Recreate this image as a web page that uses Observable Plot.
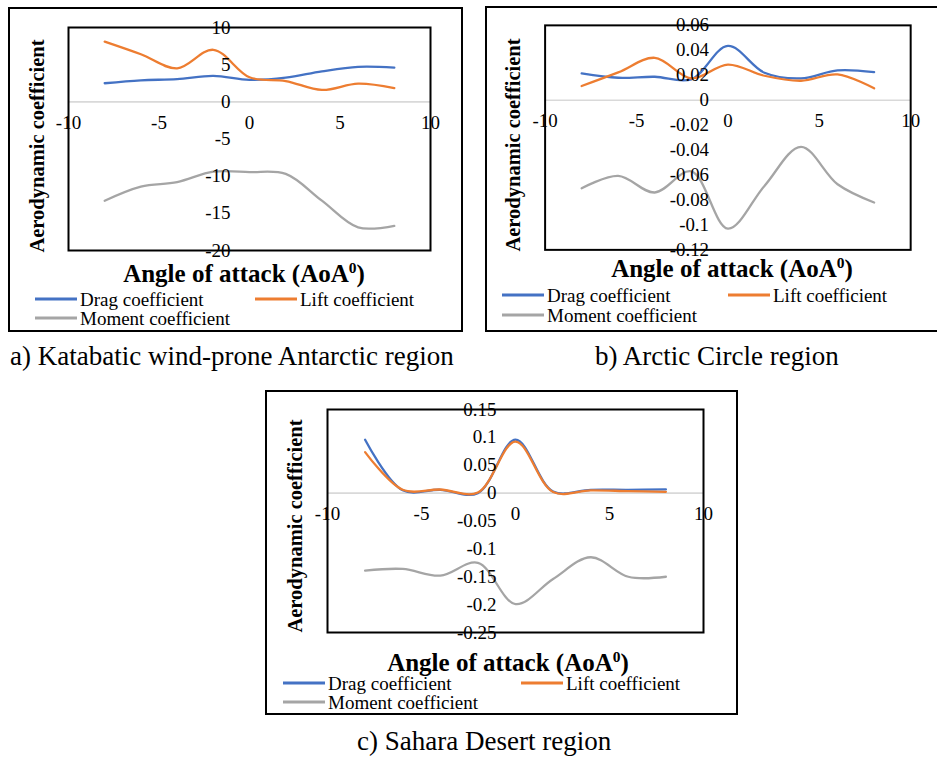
<!DOCTYPE html>
<html>
<head>
<meta charset="utf-8">
<script src="https://cdn.jsdelivr.net/npm/d3@7"></script>
<script src="https://cdn.jsdelivr.net/npm/@observablehq/plot@0.6"></script>
<style>
  html, body { margin: 0; padding: 0; background: #fff; }
  #page { position: relative; width: 937px; height: 758px; overflow: hidden; background: #fff;
          font-family: "Liberation Serif", "Tinos", "DejaVu Serif", serif; color: #000; }
  .box { position: absolute; border: 2px solid #000; box-sizing: border-box; }
  .svgwrap { position: absolute; }
  .svgwrap svg { overflow: visible; }
  .ytitle { position: absolute; font-weight: bold; font-size: 20.5px; white-space: nowrap; line-height: 1;
            transform: translate(-50%, -50%) rotate(-90deg); }
  .xtitle { position: absolute; font-weight: bold; font-size: 25px; white-space: nowrap; line-height: 1;
            transform: translate(-50%, -50%); }
  .xtitle sup { font-size: 0.62em; vertical-align: 0.55em; line-height: 0; }
  .leg { position: absolute; display: flex; align-items: center; transform: translateY(-50%);
         font-size: 19px; white-space: nowrap; line-height: 1; }
  .leg .sw { display: inline-block; width: 42px; height: 3px; margin-right: 3px; }
  .cap { position: absolute; font-size: 27px; white-space: nowrap; line-height: 1; transform: translateY(-50%); }
</style>
</head>
<body>
<div id="page"></div>
<script>
// ---------- data ----------
const aoa = [-8, -6, -4, -2, 0, 2, 4, 6, 8];
const xTicks = [-10, -5, 0, 5, 10];

// a) Katabatic wind-prone Antarctic region
const antarcticDrag   = [2.5, 2.9, 3.05, 3.5, 2.95, 3.25, 4.1, 4.7, 4.6];
const antarcticLift   = [8.1, 6.4, 4.5, 7.0, 3.3, 2.8, 1.6, 2.45, 1.85];
const antarcticMoment = [-13.3, -11.4, -10.8, -9.4, -9.45, -9.7, -13.3, -16.9, -16.7];
const antarcticYTicks = [10, 5, 0, -5, -10, -15, -20];
const antarcticYLabels = ["10", "5", "0", "-5", "-10", "-15", "-20"];

// b) Arctic Circle region
const arcticDrag   = [0.0215, 0.018, 0.0188, 0.0167, 0.0435, 0.022, 0.0175, 0.0239, 0.0225];
const arcticLift   = [0.0114, 0.0223, 0.034, 0.0175, 0.0286, 0.0196, 0.0156, 0.0207, 0.0095];
const arcticMoment = [-0.0706, -0.0607, -0.074, -0.057, -0.103, -0.0687, -0.0374, -0.0674, -0.082];
const arcticYTicks = [0.06, 0.04, 0.02, 0, -0.02, -0.04, -0.06, -0.08, -0.1, -0.12];
const arcticYLabels = ["0.06", "0.04", "0.02", "0", "-0.02", "-0.04", "-0.06", "-0.08", "-0.1", "-0.12"];

// c) Sahara Desert region
const saharaDrag   = [0.0957, 0.005, 0.006, 0.0, 0.096, 0.003, 0.006, 0.006, 0.0066];
const saharaLift   = [0.0736, 0.006, 0.0065, 0.001, 0.0925, 0.002, 0.005, 0.0036, 0.0024];
const saharaMoment = [-0.139, -0.136, -0.148, -0.125, -0.199, -0.154, -0.115, -0.150, -0.150];
const saharaYTicks = [0.15, 0.1, 0.05, 0, -0.05, -0.1, -0.15, -0.2, -0.25];
const saharaYLabels = ["0.15", "0.1", "0.05", "0", "-0.05", "-0.1", "-0.15", "-0.2", "-0.25"];

const seriesNames = ["Drag coefficient", "Lift coefficient", "Moment coefficient"];
const seriesColors = ["#4472C4", "#ED7D31", "#A5A5A5"];

// ---------- layout ----------
const page = document.getElementById("page");
const SERIF = "'Liberation Serif', 'Tinos', 'DejaVu Serif', serif";

function el(cls, css, html) {
  const d = document.createElement("div");
  d.className = cls;
  Object.assign(d.style, css);
  if (html !== undefined) d.innerHTML = html;
  page.appendChild(d);
  return d;
}

function panel(cfg) {
  const [bx0, by0, bx1, by1] = cfg.box;
  const [fx0, fy0, fx1, fy1] = cfg.frame;
  el("box", {left: bx0 + "px", top: by0 + "px", width: (bx1 - bx0) + "px", height: (by1 - by0) + "px"});

  const width = cfg.svgW;
  const height = fy1 + 26 - by0;
  const rows = cfg.series.map((vals) => aoa.map((x, i) => ({x, y: vals[i]})));
  const tickRows = cfg.yTicks.map((v, i) => ({v, label: cfg.yLabels[i]}));

  const chart = Plot.plot({
    width, height,
    marginLeft: fx0 - bx0,
    marginRight: bx0 + width - fx1,
    marginTop: fy0 - by0,
    marginBottom: by0 + height - fy1,
    x: {domain: [-10, 10], axis: null},
    y: {domain: cfg.yDomain, axis: null},
    style: {fontFamily: SERIF, fontSize: "19px", background: "transparent", overflow: "visible", color: "#000"},
    marks: [
      Plot.ruleY([0], {stroke: "#d9d9d9", strokeWidth: 1.6}),
      ...rows.map((r, i) => Plot.line(r, {x: "x", y: "y", stroke: seriesColors[i], strokeWidth: 2.3, curve: "catmull-rom"})),
      Plot.text(tickRows, {x: () => 0, y: "v", text: "label", textAnchor: "end", dx: -19, fontSize: 19, fill: "#000", fontFamily: SERIF}),
      Plot.text(xTicks, {x: (d) => d, y: () => 0, text: (d) => String(d), dy: 21, fontSize: 19, fill: "#000", fontFamily: SERIF}),
      Plot.frame({stroke: "#000", strokeWidth: 2})
    ]
  });
  const wrap = el("svgwrap", {left: bx0 + "px", top: by0 + "px"});
  wrap.appendChild(chart);

  el("ytitle", {left: cfg.yTitle[0] + "px", top: cfg.yTitle[1] + "px"}, "Aerodynamic coefficient");
  el("xtitle", {left: cfg.xTitle[0] + "px", top: cfg.xTitle[1] + "px"}, "Angle of attack (AoA<sup>0</sup>)");

  cfg.legend.forEach(([lx, ly], i) => {
    el("leg", {left: lx + "px", top: ly + "px"},
      `<span class="sw" style="background:${seriesColors[i]}"></span><span>${seriesNames[i]}</span>`);
  });
}

panel({
  box: [8, 7, 463, 332], frame: [68, 27, 430, 250], svgW: 455,
  yDomain: [-20, 10], yTicks: antarcticYTicks, yLabels: antarcticYLabels,
  series: [antarcticDrag, antarcticLift, antarcticMoment],
  yTitle: [37, 146], xTitle: [244, 273],
  legend: [[35, 299], [255, 299], [35, 318]]
});

panel({
  box: [485, 6, 945, 332], frame: [545, 25, 913, 251], svgW: 455,
  yDomain: [-0.12, 0.06], yTicks: arcticYTicks, yLabels: arcticYLabels,
  series: [arcticDrag, arcticLift, arcticMoment],
  yTitle: [513, 145], xTitle: [732, 268],
  legend: [[502, 295], [728, 295], [502, 315]]
});

panel({
  box: [265, 390, 738, 715], frame: [327, 409, 703, 632], svgW: 473,
  yDomain: [-0.25, 0.15], yTicks: saharaYTicks, yLabels: saharaYLabels,
  series: [saharaDrag, saharaLift, saharaMoment],
  yTitle: [295, 526], xTitle: [508, 662],
  legend: [[283, 683], [521, 683], [283, 702]]
});

el("cap", {left: "10px", top: "356px"}, "a) Katabatic wind-prone Antarctic region");
el("cap", {left: "595px", top: "356px"}, "b) Arctic Circle region");
el("cap", {left: "357px", top: "741px"}, "c) Sahara Desert region");
</script>
</body>
</html>
